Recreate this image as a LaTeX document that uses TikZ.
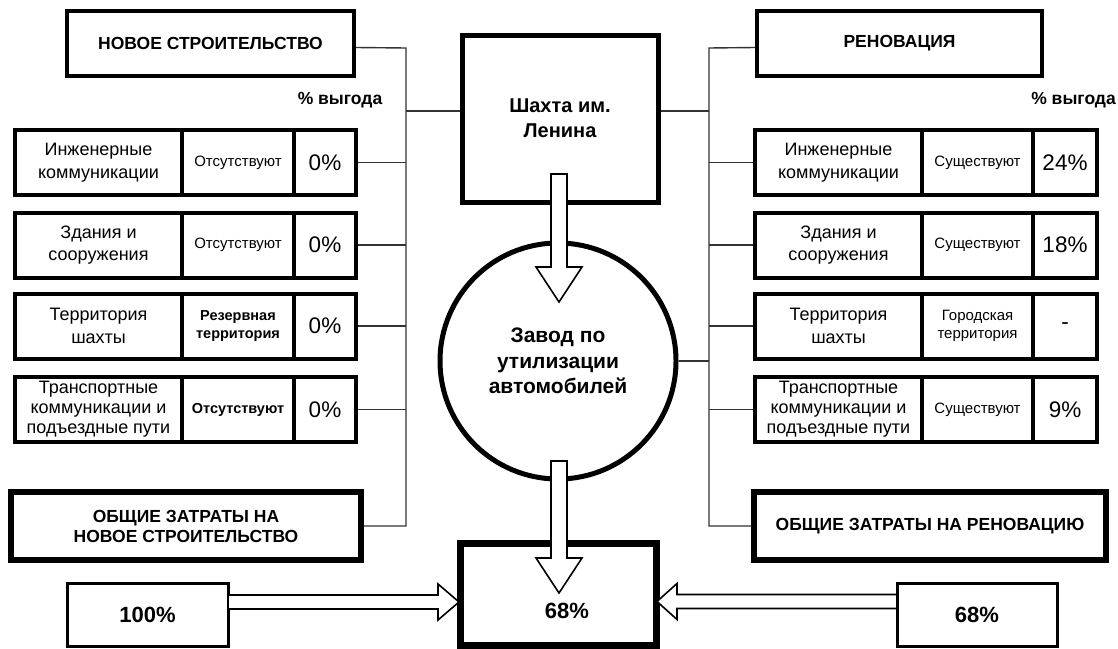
\documentclass[tikz,border=0pt]{standalone}
\usepackage{fontspec}
\setmainfont{Liberation Sans}
\usetikzlibrary{calc}
\newcommand\fsz[2]{\fontsize{#1}{#2}\selectfont}
\newcommand\hollowdown[4]{%
  \filldraw[hollow] ({#1-8},#2) -- ({#1+8},#2) -- ({#1+8},#3) -- ({#1+23},#3) -- (#1,#4) -- ({#1-23},#3) -- ({#1-8},#3) -- cycle;}
\newcommand\hollowh[4]{%
  \filldraw[hollow] (#2,{#1-7}) -- (#3,{#1-7}) -- (#3,{#1-18}) -- (#4,#1) -- (#3,{#1+18}) -- (#3,{#1+7}) -- (#2,{#1+7}) -- cycle;}
\begin{document}
\begin{tikzpicture}[x=1pt,y=-1pt,
  box/.style={draw=black, fill=white, inner sep=0pt, align=center, anchor=center},
  hdr/.style={box, line width=4, minimum width=287, minimum height=65, font=\bfseries\fsz{17.5}{21}},
  cellA/.style={box, line width=4, minimum width=167, minimum height=65, font=\fsz{18}{22.5}},
  cellB/.style={box, line width=4, minimum width=112, minimum height=65, font=\fsz{15}{18}},
  cellC/.style={box, line width=4, minimum width=62, minimum height=65, font=\fsz{22.5}{26}},
  total/.style={box, line width=5.5, minimum height=68, font=\bfseries\fsz{17.5}{20}},
  result/.style={box, line width=3, minimum width=161, minimum height=63, font=\bfseries\fsz{22}{26}},
  gain/.style={font=\bfseries\fsz{17.5}{21}, inner sep=0pt},
  link/.style={draw=black!80, line width=1.4},
  hollow/.style={draw=black, fill=white, line width=1.6, line join=miter},
]
\fill[white] (0,0) rectangle (1118,648);
\useasboundingbox (0,0) rectangle (1118,648);

% trunk coordinates
\coordinate (LT) at (406,48);
\coordinate (LM) at (406,111);
\coordinate (LB) at (406,526);
\coordinate (RT) at (709,48);
\coordinate (RM) at (709,111);
\coordinate (RB) at (709,526);

% headers
\node[hdr] (nh) at (210.5,43.5) {НОВОЕ СТРОИТЕЛЬСТВО};
\node[hdr, minimum width=285] (rh) at (899.5,43.5) {РЕНОВАЦИЯ};
\node[gain] (gl) at (340,100) {\% выгода};
\node[gain, anchor=east] (gr) at (1116,100) {\% выгода};

% centre
\node[box, line width=5, minimum width=196, minimum height=167, font=\bfseries\fsz{20}{25}] (mine) at (560,118.5) {Шахта им.\\Ленина};
\node[box, circle, line width=5, minimum size=236, font=\bfseries\fsz{21}{25.5}] (plant) at (558,361) {Завод по\\утилизации\\автомобилей};
\node[box, line width=7, minimum width=196, minimum height=102] (res) at (558,594) {};
\node[font=\bfseries\fsz{22}{26}, inner sep=0pt] (rest) at (567,611) {68\%};

% left rows
\node[cellA] (l1a) at (98.5,162.5) {Инженерные\\коммуникации};
\node[cellB] (l1b) at (238,162.5) {Отсутствуют};
\node[cellC] (l1c) at (325,162.5) {0\%};
\node[cellA] (l2a) at (98.5,245) {Здания и\\сооружения};
\node[cellB] (l2b) at (238,245) {Отсутствуют};
\node[cellC] (l2c) at (325,245) {0\%};
\node[cellA] (l3a) at (98.5,326) {Территория\\шахты};
\node[cellB, font=\bfseries\fsz{14.5}{18}] (l3b) at (238,326) {Резервная\\территория};
\node[cellC] (l3c) at (325,326) {0\%};
\node[cellA, font=\fsz{18}{20}] (l4a) at (98.5,409.5) {Транспортные\\коммуникации и\\подъездные пути};
\node[cellB, font=\bfseries\fsz{14.5}{18}] (l4b) at (238,409.5) {Отсутствуют};
\node[cellC] (l4c) at (325,409.5) {0\%};

% right rows
\node[cellA] (r1a) at (838.5,162.5) {Инженерные\\коммуникации};
\node[cellB, minimum width=111] (r1b) at (977.5,162.5) {Существуют};
\node[cellC, minimum width=64] (r1c) at (1065,162.5) {24\%};
\node[cellA] (r2a) at (838.5,245) {Здания и\\сооружения};
\node[cellB, minimum width=111] (r2b) at (977.5,245) {Существуют};
\node[cellC, minimum width=64] (r2c) at (1065,245) {18\%};
\node[cellA] (r3a) at (838.5,326) {Территория\\шахты};
\node[cellB, minimum width=111] (r3b) at (977.5,326) {Городская\\территория};
\node[cellC, minimum width=64] (r3c) at (1065,326) {-};
\node[cellA, font=\fsz{18}{20}] (r4a) at (838.5,409.5) {Транспортные\\коммуникации и\\подъездные пути};
\node[cellB, minimum width=111] (r4b) at (977.5,409.5) {Существуют};
\node[cellC, minimum width=64] (r4c) at (1065,409.5) {9\%};

% totals
\node[total, minimum width=350] (lt) at (186,526) {ОБЩИЕ ЗАТРАТЫ НА\\НОВОЕ СТРОИТЕЛЬСТВО};
\node[total, minimum width=352] (rt) at (930,526) {ОБЩИЕ ЗАТРАТЫ НА РЕНОВАЦИЮ};
\node[result] (p100) at (147.5,614.5) {100\%};
\node[result, minimum width=160] (p68) at (977,614.5) {68\%};

% connectors
\draw[link] ([yshift=-4pt]nh.east) -- (LT) -- (LB) -- (lt.east);
\draw[link] (LM) -- (mine.west |- LM);
\foreach \r in {1,2,3,4} \draw[link] (l\r c.east) -- (l\r c.east -| LT);
\draw[link] ([yshift=-4pt]rh.west) -- (RT) -- (RB) -- (rt.west);
\draw[link] (mine.east |- RM) -- (RM);
\foreach \r in {1,2,3,4} \draw[link] (r\r a.west) -- (r\r a.west -| RT);
\draw[link] (plant.east) -- (plant.east -| RT);

% hollow arrows
\hollowdown{559}{174}{267}{302}
\hollowdown{559}{461}{558}{593}
\hollowh{602}{228}{438}{459}
\hollowh{601.5}{897}{677}{657}
\end{tikzpicture}
\end{document}
